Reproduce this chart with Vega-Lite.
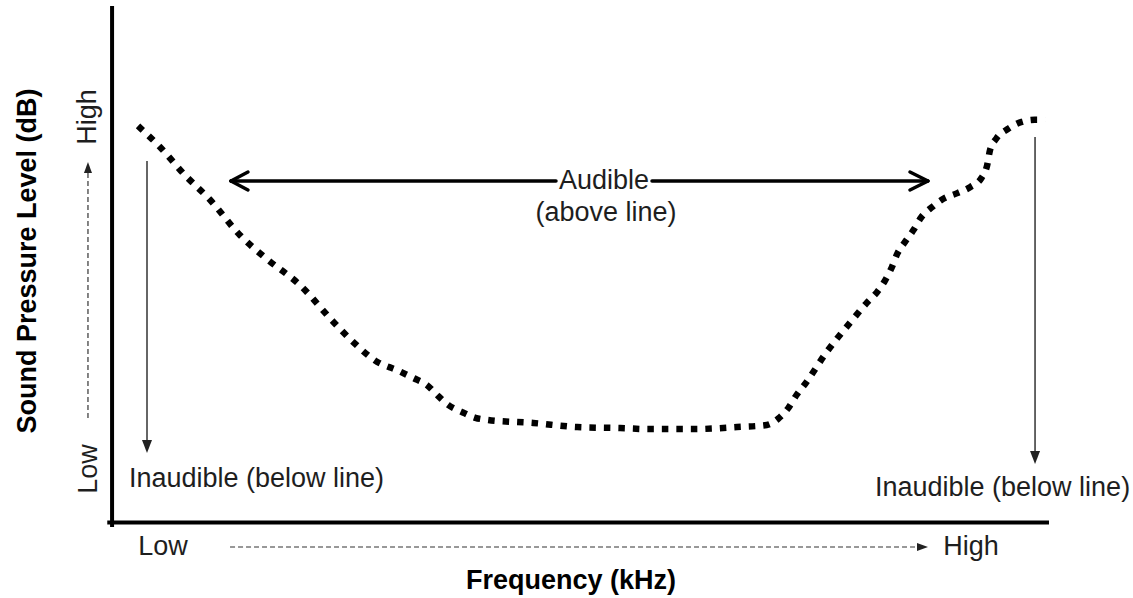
{
  "$schema": "https://vega.github.io/schema/vega-lite/v6.json",
  "width": 1133,
  "height": 598,
  "autosize": {"type": "fit", "contains": "padding"},
  "padding": 0,
  "background": "white",
  "config": {"view": {"stroke": null}},
  "datasets": {
    "axes": [
      {"x": -0.1, "y": -0.4, "x2": -0.1, "y2": 100.4},
      {"x": -0.4, "y": 0.1, "x2": 100.0, "y2": 0.1}
    ],
    "curve": [
      {"x": 2.68, "y": 77.4}, {"x": 5.03, "y": 73.3}, {"x": 7.71, "y": 67.8}, {"x": 10.39, "y": 63.0},
      {"x": 13.6, "y": 56.1}, {"x": 16.3, "y": 51.7}, {"x": 20.0, "y": 46.4}, {"x": 23.6, "y": 39.2},
      {"x": 25.7, "y": 35.3}, {"x": 28.3, "y": 31.4}, {"x": 30.4, "y": 29.8}, {"x": 32.1, "y": 28.3},
      {"x": 33.6, "y": 26.9}, {"x": 34.8, "y": 24.8}, {"x": 35.9, "y": 23.0}, {"x": 37.4, "y": 21.6},
      {"x": 38.8, "y": 20.5}, {"x": 40.1, "y": 20.1}, {"x": 45.0, "y": 19.5}, {"x": 49.7, "y": 18.7},
      {"x": 54.3, "y": 18.5}, {"x": 57.5, "y": 18.3}, {"x": 62.1, "y": 18.3}, {"x": 66.8, "y": 18.7},
      {"x": 70.0, "y": 19.1}, {"x": 71.2, "y": 20.3}, {"x": 72.3, "y": 22.4}, {"x": 73.2, "y": 25.0},
      {"x": 74.1, "y": 27.1}, {"x": 76.4, "y": 33.3}, {"x": 78.9, "y": 39.0}, {"x": 80.7, "y": 42.9},
      {"x": 81.8, "y": 45.0}, {"x": 82.7, "y": 47.4}, {"x": 83.4, "y": 49.9}, {"x": 84.0, "y": 52.6},
      {"x": 84.8, "y": 54.8}, {"x": 85.7, "y": 57.1}, {"x": 86.5, "y": 59.5}, {"x": 87.7, "y": 61.6},
      {"x": 88.9, "y": 63.2}, {"x": 90.4, "y": 64.3}, {"x": 91.8, "y": 65.5}, {"x": 93.0, "y": 67.3},
      {"x": 93.6, "y": 69.8}, {"x": 93.9, "y": 72.7}, {"x": 94.6, "y": 75.0}, {"x": 95.8, "y": 76.8},
      {"x": 97.3, "y": 78.2}, {"x": 98.7, "y": 78.6}, {"x": 99.8, "y": 78.6}
    ],
    "boldArrow": [
      {"x": 12.63, "y": 66.67, "x2": 47.43, "y2": 66.67},
      {"x": 57.71, "y": 66.67, "x2": 87.15, "y2": 66.67},
      {"x": 12.63, "y": 66.67, "x2": 14.45, "y2": 68.42},
      {"x": 12.63, "y": 66.67, "x2": 14.45, "y2": 64.91},
      {"x": 87.26, "y": 66.67, "x2": 85.33, "y2": 68.42},
      {"x": 87.26, "y": 66.67, "x2": 85.33, "y2": 64.91}
    ],
    "thin": [
      {"x": 3.64, "y": 70.57, "x2": 3.64, "y2": 15.2},
      {"x": 98.72, "y": 75.24, "x2": 98.72, "y2": 13.26}
    ],
    "dashed": [
      {"x": -2.68, "y": 20.47, "x2": -2.68, "y2": 68.81},
      {"x": 12.53, "y": -4.68, "x2": 86.19, "y2": -4.68}
    ],
    "headDown": [{"x": 3.64, "y": 14.91}, {"x": 98.72, "y": 12.77}],
    "headUp": [{"x": -2.68, "y": 69.3}],
    "headRight": [{"x": 86.67, "y": -4.68}],
    "plain": [
      {"x": 52.57, "y": 66.67, "label": "Audible"},
      {"x": 52.78, "y": 60.43, "label": "(above line)"},
      {"x": 15.36, "y": 8.58, "label": "Inaudible (below line)"},
      {"x": 95.24, "y": 6.82, "label": "Inaudible (below line)"},
      {"x": 5.35, "y": -4.68, "label": "Low"},
      {"x": 91.86, "y": -4.68, "label": "High"}
    ],
    "plainRot": [
      {"x": -2.68, "y": 79.14, "label": "High"},
      {"x": -2.57, "y": 10.53, "label": "Low"}
    ],
    "bold": [{"x": 49.04, "y": -11.31, "label": "Frequency (kHz)"}],
    "boldRot": [{"x": -9.1, "y": 51.07, "label": "Sound Pressure Level (dB)"}]
  },
  "encoding": {
    "x": {"field": "x", "type": "quantitative", "axis": null, "scale": {"domain": [-12.099, 109.208], "nice": false, "zero": false}},
    "y": {"field": "y", "type": "quantitative", "axis": null, "scale": {"domain": [-14.62, 101.949], "nice": false, "zero": false}}
  },
  "layer": [
    {
      "data": {"name": "axes"},
      "mark": {"type": "rule", "strokeWidth": 4, "color": "#000000", "strokeCap": "square"},
      "encoding": {"x2": {"field": "x2"}, "y2": {"field": "y2"}}
    },
    {
      "data": {"name": "curve"},
      "mark": {"type": "line", "strokeWidth": 6.5, "strokeDash": [6.5, 8], "strokeCap": "butt", "color": "#000000", "interpolate": "monotone"},
      "encoding": {}
    },
    {
      "data": {"name": "boldArrow"},
      "mark": {"type": "rule", "strokeWidth": 3.5, "color": "#000000", "strokeCap": "round"},
      "encoding": {"x2": {"field": "x2"}, "y2": {"field": "y2"}}
    },
    {
      "data": {"name": "thin"},
      "mark": {"type": "rule", "strokeWidth": 1.5, "color": "#333333"},
      "encoding": {"x2": {"field": "x2"}, "y2": {"field": "y2"}}
    },
    {
      "data": {"name": "dashed"},
      "mark": {"type": "rule", "strokeWidth": 1.2, "strokeDash": [5, 3], "color": "#333333"},
      "encoding": {"x2": {"field": "x2"}, "y2": {"field": "y2"}}
    },
    {
      "data": {"name": "headDown"},
      "mark": {"type": "point", "shape": "M-0.77,-1L0.77,-1L0,1Z", "size": 169, "filled": true, "opacity": 1, "color": "#222222"},
      "encoding": {}
    },
    {
      "data": {"name": "headUp"},
      "mark": {"type": "point", "shape": "M-0.73,1L0.73,1L0,-1Z", "size": 121, "filled": true, "opacity": 1, "color": "#222222"},
      "encoding": {}
    },
    {
      "data": {"name": "headRight"},
      "mark": {"type": "point", "shape": "M-1,-0.73L1,0L-1,0.73Z", "size": 121, "filled": true, "opacity": 1, "color": "#222222"},
      "encoding": {}
    },
    {
      "data": {"name": "plain"},
      "mark": {"type": "text", "font": "Liberation Sans", "fontSize": 27, "color": "#1e1e1e", "align": "center", "baseline": "middle"},
      "encoding": {"text": {"field": "label"}}
    },
    {
      "data": {"name": "plainRot"},
      "mark": {"type": "text", "font": "Liberation Sans", "fontSize": 27, "color": "#1e1e1e", "align": "center", "baseline": "middle", "angle": 270},
      "encoding": {"text": {"field": "label"}}
    },
    {
      "data": {"name": "bold"},
      "mark": {"type": "text", "font": "Liberation Sans", "fontSize": 27, "fontWeight": "bold", "color": "#000000", "align": "center", "baseline": "middle"},
      "encoding": {"text": {"field": "label"}}
    },
    {
      "data": {"name": "boldRot"},
      "mark": {"type": "text", "font": "Liberation Sans", "fontSize": 27, "fontWeight": "bold", "color": "#000000", "align": "center", "baseline": "middle", "angle": 270},
      "encoding": {"text": {"field": "label"}}
    }
  ]
}
